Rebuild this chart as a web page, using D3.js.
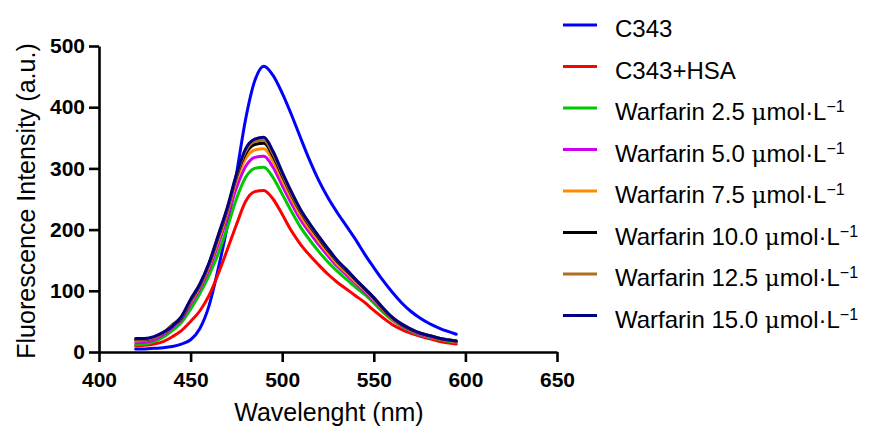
<!DOCTYPE html>
<html>
<head>
<meta charset="utf-8">
<script src="https://cdn.jsdelivr.net/npm/d3@7"></script>
<style>
  html, body { margin: 0; padding: 0; background: #fff; }
  svg { display: block; font-family: "Liberation Sans", Arial, Helvetica, sans-serif; }
</style>
</head>
<body>
<svg id="chart" width="870" height="429"></svg>
<script>
// ---- data ----
const wavelengths = [420,425,430,435,440,445,450,455,460,465,470,475,480,485,490,495,500,505,510,515,520,525,530,535,540,545,550,555,560,565,570,575,580,585,590,595];

const seriesNames = ["C343", "C343+HSA", "Warfarin 2.5", "Warfarin 5.0", "Warfarin 7.5", "Warfarin 10.0", "Warfarin 12.5", "Warfarin 15.0"];
const seriesColors = ["#0000ff", "#ff0000", "#00c800", "#cc00ee", "#ff8c00", "#000000", "#b06f1e", "#000080"];

const c343      = [5,5,6,7,9,13,20,38,75,135,205,290,380,443,467,452,423,388,350,313,280,252,228,206,184,160,138,117,98,81,67,56,47,40,34,29];
const c343HSA   = [10,11,13,17,25,35,50,67,92,127,167,208,246,262,264,250,225,198,176,158,142,127,114,103,92,81,68,56,45,37,31,26,22,18,15,13];
const warf25    = [12,13,17,24,35,48,70,95,125,160,203,250,285,300,302,285,258,230,204,183,164,147,132,119,106,94,80,65,52,42,34,28,24,21,18,16];
const warf50    = [15,16,20,28,40,53,78,103,135,175,220,268,303,318,320,302,272,243,216,195,175,157,140,126,112,98,84,68,54,43,35,29,25,22,19,17];
const warf75    = [18,19,23,31,44,58,82,107,140,182,228,280,316,330,332,312,281,251,223,201,181,162,144,130,115,101,86,70,55,44,36,30,26,22,19,17];
const warf100   = [20,20,24,31,44,56,84,109,143,187,232,286,324,339,341,320,288,257,229,206,186,166,148,133,118,103,88,71,56,45,37,31,27,23,20,18];
const warf125   = [21,21,24,31,43,57,85,110,144,189,234,288,328,344,346,324,291,259,231,208,188,168,149,134,119,104,89,72,57,46,38,31,27,23,20,18];
const warf150   = [22,22,25,32,42,58,86,111,145,190,236,290,332,348,351,328,294,262,233,210,189,169,150,135,119,104,89,72,57,46,38,31,27,23,20,18];

const seriesValues = [c343, c343HSA, warf25, warf50, warf75, warf100, warf125, warf150];
const legendLabels = ["C343", "C343+HSA", "Warfarin 2.5", "Warfarin 5.0", "Warfarin 7.5", "Warfarin 10.0", "Warfarin 12.5", "Warfarin 15.0"];

const xTicks = [400, 450, 500, 550, 600, 650];
const yTicks = [0, 100, 200, 300, 400, 500];

// ---- chart ----
const svg = d3.select("#chart");
const x = d3.scaleLinear().domain([400, 650]).range([99, 557]);
const y = d3.scaleLinear().domain([0, 500]).range([352, 46]);

// curves
const line = d3.line()
  .x(d => x(d[0]))
  .y(d => y(d[1]))
  .curve(d3.curveMonotoneX);

seriesValues.forEach((vals, i) => {
  const pts = wavelengths.map((w, j) => [w, vals[j]]);
  svg.append("path")
    .datum(pts)
    .attr("d", line)
    .attr("fill", "none")
    .attr("stroke", seriesColors[i])
    .attr("stroke-width", 3)
    .attr("stroke-linejoin", "round")
    .attr("stroke-linecap", "round");
});

// axes
const xAxis = d3.axisBottom(x).tickValues(xTicks).tickSize(10).tickSizeOuter(0).tickPadding(10);
const yAxis = d3.axisLeft(y).tickValues(yTicks).tickSize(10).tickSizeOuter(0).tickPadding(4);

const gx = svg.append("g").attr("transform", `translate(0,${y(0)})`).call(xAxis);
const gy = svg.append("g").attr("transform", `translate(${x(400)},0)`).call(yAxis);

[gx, gy].forEach(g => {
  g.select(".domain").attr("stroke", "#000").attr("stroke-width", 2.6);
  g.selectAll(".tick line").attr("stroke", "#000").attr("stroke-width", 2.6);
  g.selectAll(".tick text")
    .attr("fill", "#000")
    .style("font-family", "'Liberation Sans', Arial, sans-serif")
    .style("font-size", "21px")
    .style("font-weight", "bold");
});

// axis titles
svg.append("text")
  .attr("x", 329)
  .attr("y", 421)
  .attr("text-anchor", "middle")
  .style("font-size", "25px")
  .attr("fill", "#000")
  .text("Wavelenght (nm)");

svg.append("text")
  .attr("transform", "translate(35,201) rotate(-90)")
  .attr("text-anchor", "middle")
  .style("font-size", "25px")
  .attr("fill", "#000")
  .text("Fluorescence Intensity (a.u.)");

// legend
const legend = svg.append("g");
legendLabels.forEach((lab, i) => {
  const ly = 25 + i * 41.5;
  legend.append("line")
    .attr("x1", 563).attr("x2", 597)
    .attr("y1", ly).attr("y2", ly)
    .attr("stroke", seriesColors[i])
    .attr("stroke-width", 3);
  const t = legend.append("text")
    .attr("x", 615)
    .attr("y", ly + 12)
    .style("font-size", "24px")
    .attr("fill", "#000");
  if (i < 2) {
    t.text(lab);
  } else {
    t.append("tspan").text(lab + " ");
    t.append("tspan").style("font-family", "'DejaVu Serif', serif").style("font-size", "23px").text("\u03BC");
    t.append("tspan").text("mol\u00B7L");
    t.append("tspan")
      .attr("dy", -8)
      .style("font-size", "16px")
      .text("\u22121");
  }
});
</script>
</body>
</html>
